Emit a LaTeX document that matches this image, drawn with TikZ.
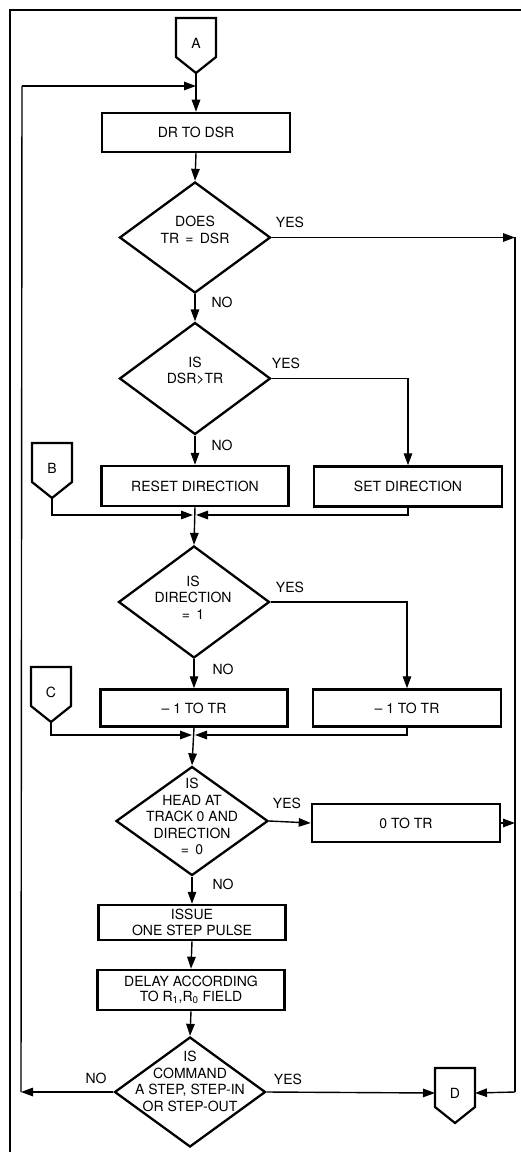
\documentclass[tikz,border=0pt]{standalone}
\usepackage{fontspec}
\setmainfont{TeX Gyre Heros}
\usetikzlibrary{arrows.meta,shapes.geometric}
\tikzset{
  fnt/.style={font=\fontsize{14}{16.5}\selectfont},
  box/.style={fnt, draw, line width=2.5pt, minimum width=187pt, minimum height=39pt, inner sep=0pt, align=center},
  dia/.style={draw, diamond, line width=2.3pt, minimum width=151pt, minimum height=111pt, inner sep=0pt},
  txt/.style={fnt, inner sep=0pt, align=center},
  lbl/.style={fnt, inner sep=0pt},
  flow/.style={line width=1.4pt, -{Triangle[length=12pt,width=8.5pt]}},
  plain/.style={line width=1.4pt},
  conline/.style={line width=2.2pt, line join=miter},
  frame/.style={line width=1.2pt},
}
\newcommand\offpage[4]{% name, x centre, y top, text
  \draw[conline] (#2-20,#3) -- (#2+20,#3) -- (#2+20,#3+39) -- (#2,#3+55) -- (#2-20,#3+39) -- cycle;
  \node[txt] (#1) at (#2,#3+25) {#4};
  \coordinate (#1-tip) at (#2,#3+55);
  \coordinate (#1-w) at (#2-20,#3+25);
  \coordinate (#1-e) at (#2+20,#3+25);
}
\begin{document}
\begin{tikzpicture}[x=1pt,y=-1pt]
\useasboundingbox (0,0) rectangle (521,1155);
% frame
\draw[frame] (10,1152) -- (10,10) -- (521,10);

% off-page connectors
\offpage{A}{196}{18}{A}
\offpage{B}{52}{443}{B}
\offpage{C}{51}{667}{C}
\offpage{D}{455}{1068}{D}

% process boxes
\node[box, minimum width=188pt] (dr) at (196,132.5) {DR TO DSR};
\node[box, minimum height=40pt] (reset) at (195,486) {RESET DIRECTION};
\node[box, minimum width=188pt, minimum height=40pt] (set) at (408,486.5) {SET DIRECTION};
\node[box, minimum height=37pt] (mbox) at (194,708) {-- 1 TO TR};
\node[box, minimum width=188pt, minimum height=37pt] (pbox) at (407,708) {-- 1 TO TR};
\node[box, minimum width=188pt, minimum height=38pt] (z) at (406,823) {0 TO TR};
\node[box, minimum height=35pt] (issue) at (192,922.5) {ISSUE\\[-1pt]ONE STEP PULSE};
\node[box, minimum height=40pt] (delay) at (191,990) {DELAY ACCORDING\\[-1pt]TO R\textsubscript{1},R\textsubscript{0} FIELD};

% decisions
\node[dia, minimum height=111pt] (d1) at (195,237.5) {};
\node[txt] (d1t) at (195,230) {DOES\\TR \,=\, DSR};
\node[dia, minimum height=112pt] (d2) at (195,378.5) {};
\node[txt] (d2t) at (195,371) {IS\\DSR>TR};
\node[dia, minimum height=112pt] (d3) at (194,602) {};
\node[txt] (d3t) at (193,597.5) {IS\\DIRECTION\\= \,1};
\node[dia, minimum width=152pt, minimum height=109pt] (d4) at (192,821) {};
\node[txt] (d4t) at (192,816.5) {IS\\HEAD AT\\TRACK 0 AND\\DIRECTION\\= \,0};
\node[dia, minimum height=110pt] (d5) at (190,1092) {};
\node[txt] (d5t) at (190,1081.5) {IS\\COMMAND\\A STEP, STEP-IN\\OR STEP-OUT};

% labels
\node[lbl] (y1) at (290,222) {YES};
\node[lbl] (n1) at (222,302) {NO};
\node[lbl] (y2) at (286,363) {YES};
\node[lbl] (n2) at (222,445) {NO};
\node[lbl] (y3) at (290,587) {YES};
\node[lbl] (n3) at (223,669) {NO};
\node[lbl] (y4) at (287,803) {YES};
\node[lbl] (n4) at (223,884) {NO};
\node[lbl] (n5) at (96,1078) {NO};
\node[lbl] (y5) at (288,1079) {YES};

% helper coordinates
\coordinate (j0) at (196,86);
\coordinate (loopT) at (22,86);
\coordinate (loopL) at (21,1092);
\coordinate (r1) at (515,237.5);
\coordinate (r5) at (515,1092);
\coordinate (m1L) at (193,515);
\coordinate (m1R) at (196,515);
\coordinate (m2L) at (192,735);
\coordinate (m2R) at (195,735);

% connectors
\draw[flow] (A-tip) -- (dr.north);
\draw[flow] (loopT) -- (j0);
\draw[plain] (loopL) -- (loopT);
\draw[flow] (dr.south) -- (d1.north);
\draw[flow] (d1.east) -- (r1);
\draw[plain] (r1) -- (r5);
\draw[flow] (r5) -- (D-e);
\draw[flow] (d1.south) -- (d2.north);
\draw[flow] (d2.east) -| (set.north);
\draw[flow] (d2.south) -- (reset.north);
\draw[flow] (reset.south) -- (d3.north);
\draw[flow] (B-tip) |- (m1L);
\draw[flow] (set.south) |- (m1R);
\draw[flow] (d3.east) -| (pbox.north);
\draw[flow] (d3.south) -- (mbox.north);
\draw[flow] (mbox.south) -- (d4.north);
\draw[flow] (C-tip) |- (m2L);
\draw[flow] (pbox.south) |- (m2R);
\draw[flow] (d4.east) -- (z.west);
\draw[flow] (z.east) -- (z.east -| r1);
\draw[flow] (d4.south) -- (issue.north);
\draw[flow] (issue.south) -- (delay.north);
\draw[flow] (delay.south) -- (d5.north);
\draw[flow] (d5.east) -- (D-w);
\draw[flow] (d5.west) -- (loopL);
\end{tikzpicture}
\end{document}
